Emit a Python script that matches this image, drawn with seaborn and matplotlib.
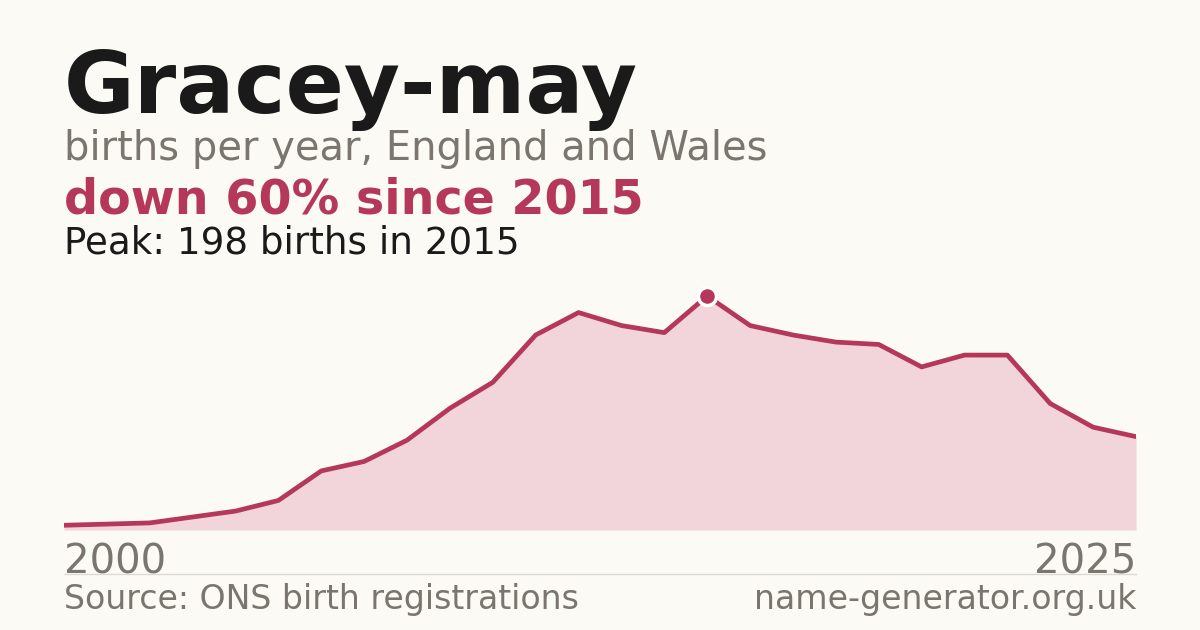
import matplotlib
matplotlib.use("Agg")
import matplotlib.pyplot as plt
import seaborn as sns
import pandas as pd

# Births per year for the name
years = list(range(2000, 2026))
births = [4, 5, 6, 11, 16, 25, 50, 58, 76, 103, 125, 165, 184, 173, 167,
          198, 173, 165, 159, 157, 138, 148, 148, 107, 87, 79]

name = "Gracey-may"
subtitle = "births per year, England and Wales"
headline = "down 60% since 2015"
peak_note = "Peak: 198 births in 2015"
source = "Source: ONS birth registrations"
site = "name-generator.org.uk"
peak_year = 2015
peak_value = 198

bg = "#fbfaf5"
red = "#b5385a"
fill = "#f2d5da"
grey = "#7a756e"
dark = "#1a1a1a"

df = pd.DataFrame({"year": years, "births": births})

sns.set_theme(style="white")
plt.rcParams['font.family'] = ['DejaVu Sans']

W, H = 1200, 630
fig = plt.figure(figsize=(12, 6.3), dpi=100, facecolor=bg)

def fy(px):
    return 1 - px / H

# chart area: x 64..1136 px, baseline at 530 px
ax = fig.add_axes([64 / W, fy(530), 1072 / W, (530 - 270) / H])
ax.set_facecolor(bg)

ax.fill_between(df["year"], df["births"], 0, color=fill, lw=0)
sns.lineplot(data=df, x="year", y="births", ax=ax, color=red, lw=3.4)
ax.plot([peak_year], [peak_value], marker="o", ms=13, color=red,
        mec="white", mew=2.5, zorder=5, clip_on=False)

ax.set_xlim(2000, 2025)
ax.set_ylim(0, 220)
for s in ax.spines.values():
    s.set_visible(False)
ax.set_yticks([])
ax.set_xticks([2000, 2025])
ax.set_xticklabels(["2000", "2025"], fontsize=29, color=grey)
labels = ax.get_xticklabels()
labels[0].set_ha("left")
labels[1].set_ha("right")
ax.tick_params(axis="x", length=0, pad=9)
ax.set_xlabel("")
ax.set_ylabel("")

# header texts
fig.text(64 / W, fy(113), name, fontsize=62, fontweight="bold", color=dark, va="baseline")
fig.text(64 / W, fy(160), subtitle, fontsize=28.8, color=grey, va="baseline")
fig.text(64 / W, fy(214), headline, fontsize=34.3, fontweight="bold", color=red, va="baseline")
fig.text(64 / W, fy(254), peak_note, fontsize=26.8, color=dark, va="baseline")

# footer
fig.add_artist(plt.Line2D([64 / W, 1136 / W], [fy(574), fy(574)], color="#dcdad4", lw=1))
fig.text(64 / W, fy(609), source, fontsize=23.9, color=grey, va="baseline")
fig.text(1136 / W, fy(609), site, fontsize=23.9, color=grey, va="baseline", ha="right")

fig.savefig("out.png", dpi=100, facecolor=bg)
